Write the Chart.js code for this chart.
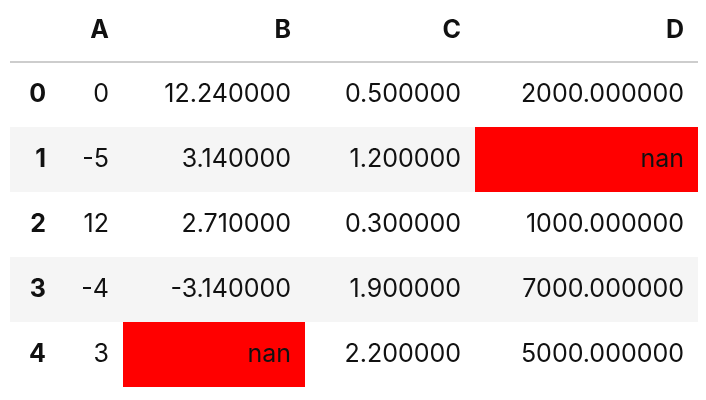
<!DOCTYPE html>
<html><head><meta charset="utf-8">
<script src="https://cdn.jsdelivr.net/npm/chart.js@4"></script>
<style>body{margin:0;background:#fff}#wrap{width:706px;height:400px}</style>
</head><body><div id="wrap"><canvas id="tbl"></canvas></div>
<script>
var columns = ['A', 'B', 'C', 'D'];
var rowLabels = ['0', '1', '2', '3', '4'];
var colA = ['0', '-5', '12', '-4', '3'];
var colB = ['12.240000', '3.140000', '2.710000', '-3.140000', 'nan'];
var colC = ['0.500000', '1.200000', '0.300000', '1.900000', '2.200000'];
var colD = ['2000.000000', 'nan', '1000.000000', '7000.000000', '5000.000000'];

// layout: column edges in pixels
var edges = [10, 60, 123, 305, 475, 698];
var pad = 14;

var tablePlugin = {
    id: 'table',
    beforeDatasetsDraw: function (chart) {
        var c = chart.ctx, x = chart.scales.x, y = chart.scales.y;
        var data = [colA, colB, colC, colD];
        // striped rows
        c.fillStyle = '#f5f5f5';
        rowLabels.forEach(function (r, i) {
            if (i % 2 == 1) {
                c.fillRect(x.getPixelForValue(edges[0]), y.getPixelForValue(i), x.getPixelForValue(edges[5]) - x.getPixelForValue(edges[0]), y.getPixelForValue(i + 1) - y.getPixelForValue(i));
            }
        });
        // nan highlight
        c.fillStyle = '#ff0000';
        data.forEach(function (col, j) {
            col.forEach(function (v, i) {
                if (v == 'nan') {
                    var x0 = x.getPixelForValue(edges[j + 1]), x1 = x.getPixelForValue(edges[j + 2]);
                    c.fillRect(x0, y.getPixelForValue(i), x1 - x0, y.getPixelForValue(i + 1) - y.getPixelForValue(i));
                }
            });
        });
        // header line
        c.strokeStyle = '#bdbdbd';
        c.lineWidth = 1.5;
        c.beginPath();
        c.moveTo(x.getPixelForValue(edges[0]), y.getPixelForValue(0));
        c.lineTo(x.getPixelForValue(edges[5]), y.getPixelForValue(0));
        c.stroke();
        // text
        c.textAlign = 'right';
        c.textBaseline = 'middle';
        c.fillStyle = '#111';
        c.font = 'bold 25px Inter';
        columns.forEach(function (h, j) {
            c.fillText(h, x.getPixelForValue(edges[j + 2] - pad), y.getPixelForValue(-0.48));
        });
        rowLabels.forEach(function (r, i) {
            c.fillText(r, x.getPixelForValue(edges[1] - pad), y.getPixelForValue(i + 0.5));
        });
        c.font = '25px Inter';
        data.forEach(function (col, j) {
            col.forEach(function (v, i) {
                c.fillText(v, x.getPixelForValue(edges[j + 2] - pad), y.getPixelForValue(i + 0.5));
            });
        });
    }
};

new Chart(document.getElementById('tbl'), {
    type: 'scatter',
    data: { datasets: [{ data: [] }] },
    options: {
        responsive: true,
        maintainAspectRatio: false,
        animation: false,
        layout: { padding: 0 },
        plugins: { legend: { display: false }, tooltip: { enabled: false } },
        scales: {
            x: { type: 'linear', min: 0, max: 706, display: false },
            y: { type: 'linear', min: -62 / 65, max: 338 / 65, reverse: true, display: false }
        }
    },
    plugins: [tablePlugin]
});
</script>
</body></html>
